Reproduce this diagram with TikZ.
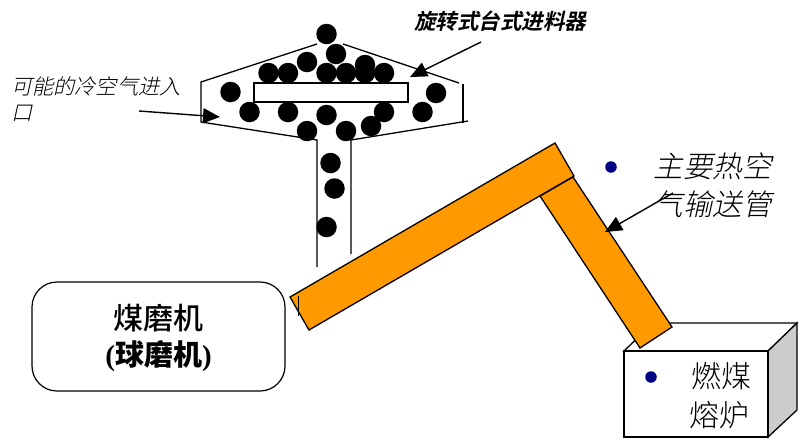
\documentclass[tikz,border=0pt]{standalone}
\usepackage{fontspec}
\setmainfont{Liberation Serif}
\newfontfamily\cjk[UprightFont=* Light]{Noto Sans CJK SC}
\newfontfamily\cjkit[UprightFont=* Light,FakeSlant=0.22]{Noto Sans CJK SC}
\newfontfamily\cjkbi[UprightFont=* Bold,FakeSlant=0.22]{Noto Sans CJK SC}
\newfontfamily\cjkb[UprightFont=* Medium]{Noto Sans CJK SC}
\definecolor{pipeorange}{RGB}{255,153,0}
\definecolor{dotnavy}{RGB}{0,0,128}
\definecolor{sidegray}{RGB}{204,204,204}
\usetikzlibrary{arrows.meta}
\tikzset{
  ball/.style={circle,fill=black,minimum size=20.5pt,inner sep=0pt},
  bullet/.style={circle,fill=dotnavy,minimum size=11.5pt,inner sep=0pt},
  wall/.style={draw=black,line width=1.3pt},
  pipe/.style={draw=black,line width=1.3pt,fill=pipeorange,line join=miter},
  pointer/.style={draw=black,line width=1.4pt,-{Triangle[length=17pt,width=15pt]}},
  label/.style={inner sep=0pt,anchor=center,text=black}
}
\begin{document}
\begin{tikzpicture}[x=1pt,y=-1pt]
\useasboundingbox (0,0) rectangle (803,440);
% hopper walls
\draw[wall] (317,44) -- (201,82) -- (201,122) -- (317,140) -- (317,267);
\draw[wall] (343,44) -- (459,83);
\draw[wall] (463,84) -- (463,123);
\draw[wall] (468,121) -- (351,140) -- (351,254);
\node[draw=black,line width=1.3pt,fill=white,minimum width=154pt,minimum height=19pt,inner sep=0pt] (disc) at (331,92.5) {};
% balls
\foreach \n/\x/\y in {a/326.5/34,b/336/54,c/307/62,d/268.5/73,e/288/73,f/326.5/73,g/346/73,h/365/65,i/365/73,j/384/73,k/230.5/92,l/436/93,m/249.5/112,n/288/112,o/326.5/115,p/384/112,q/422.5/112,r/307/131,s/346/131,t/371/126,u/330.5/163,v/334.5/188.5,w/326.5/227}
  \node[ball] (ball\n) at (\x,\y) {};
% mill
\node[draw=black,line width=1.2pt,rounded corners=25pt,minimum width=253pt,minimum height=109pt,inner sep=0pt] (mill) at (158.5,336.5) {};
\node[label,font=\cjkb\fontsize{30}{30}\selectfont] (millone) at (158,318) {煤磨机};
\node[label,font=\bfseries\fontsize{29}{29}\selectfont] (milltwo) at (158.5,356) {({\cjkb 球磨机})};
% furnace
\draw[wall,fill=white] (624,351) -- (653,323) -- (797,323) -- (768,351) -- cycle;
\draw[wall,fill=sidegray] (768,351) -- (797,323) -- (797,410) -- (768,437) -- cycle;
\node[draw=black,line width=1.3pt,fill=white,minimum width=144pt,minimum height=86pt,inner sep=0pt] (furnace) at (696,394) {};
% transport pipes
\draw[pipe] (540,196) -- (573,177) -- (672,327) -- (640,348) -- cycle;
\draw[pipe] (290,297) -- (555,143) -- (574,176) -- (309,330) -- cycle;
\draw[black,line width=0.8pt] (298,296) -- (298,316);
% dots
\node[bullet] (dotair) at (611,167) {};
\node[bullet] (dotfurn) at (651,377) {};
% labels
\node[label,font=\cjkbi\fontsize{21.5}{21.5}\selectfont] (feeder) at (500,21) {旋转式台式进料器};
\node[label,font=\cjkit\fontsize{21.2}{21.2}\selectfont,anchor=west] (coldone) at (11,86) {可能的冷空气进入};
\node[label,font=\cjkit\fontsize{21.2}{21.2}\selectfont,anchor=west] (coldtwo) at (11,113) {口};
\node[label,font=\cjkit\fontsize{29.5}{29.5}\selectfont] (airone) at (712.5,166) {主要热空};
\node[label,font=\cjkit\fontsize{29.5}{29.5}\selectfont] (airtwo) at (712.5,204) {气输送管};
\node[label,font=\cjk\fontsize{30}{30}\selectfont] (furnone) at (721,376) {燃煤};
\node[label,font=\cjk\fontsize{30}{30}\selectfont] (furntwo) at (719,415) {熔炉};
% pointers
\coordinate (feedtail) at (481,42);
\coordinate (feedtip) at (410,77);
\coordinate (coldtail) at (139,111);
\coordinate (coldtip) at (220,117);
\coordinate (airtail) at (673,193);
\coordinate (airtip) at (605,232);
\draw[pointer] (feedtail) -- (feedtip);
\draw[pointer] (coldtail) -- (coldtip);
\draw[pointer] (airtail) -- (airtip);
\end{tikzpicture}
\end{document}
